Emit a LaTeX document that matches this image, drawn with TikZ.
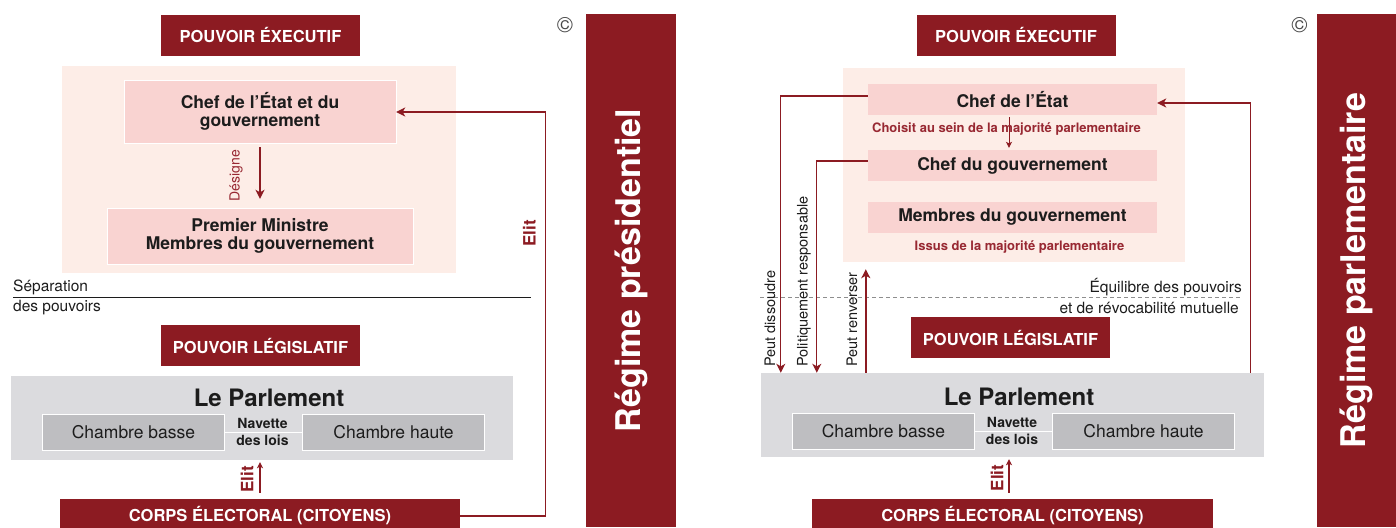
\documentclass[tikz,border=0pt]{standalone}
\usepackage{fontspec}
\setmainfont{TeX Gyre Heros}
\usepackage{tikz}
\usetikzlibrary{arrows.meta}
\definecolor{regred}{HTML}{8C1B22}
\definecolor{notered}{HTML}{982832}
\definecolor{peach}{HTML}{FDEDE7}
\definecolor{rosebox}{HTML}{F9D3D1}
\definecolor{parlgrey}{HTML}{DBDBDE}
\definecolor{chamgrey}{HTML}{BEBEC1}
\definecolor{txtdark}{HTML}{1C1C1C}
\definecolor{dashgrey}{HTML}{8E8E8E}
\tikzset{head node/.style={fill=regred,text=white,inner sep=0pt,font=\fontsize{16.5}{18}\selectfont\bfseries},
	peach node/.style={fill=peach,inner sep=0pt},
	pink node/.style={fill=rosebox,text=txtdark,inner sep=0pt,align=center,font=\fontsize{17.5}{18}\selectfont\bfseries},
	grey node/.style={fill=parlgrey,inner sep=0pt},
	chamber node/.style={fill=chamgrey,draw=white,line width=0.8pt,text=txtdark,inner sep=0pt,minimum width=182pt,minimum height=36pt,font=\fontsize{17.5}{19}\selectfont},
	parl text/.style={text=txtdark,inner sep=0pt,font=\fontsize{24}{26}\selectfont\bfseries},
	nav text/.style={text=txtdark,inner sep=0pt,align=center,font=\fontsize{14}{16.5}\selectfont\bfseries},
	sep text/.style={text=txtdark,inner sep=2pt,font=\fontsize{15.5}{17}\selectfont},
	side text/.style={text=txtdark,inner sep=0pt,rotate=90,anchor=west,font=\fontsize{14.5}{16}\selectfont},
	note text/.style={text=notered,inner sep=0pt,rotate=90,font=\fontsize{14}{16}\selectfont},
	red note/.style={text=notered,inner sep=0pt,font=\fontsize{13}{15}\selectfont\bfseries},
	elit text/.style={text=regred,inner sep=0pt,rotate=90,font=\fontsize{17}{18}\selectfont\bfseries},
	bar node/.style={fill=regred,text=white,inner sep=0pt,rotate=90,font=\fontsize{34}{36}\selectfont\bfseries},
	copy text/.style={text=txtdark!80,inner sep=0pt,font=\fontsize{22}{24}\selectfont},
	red line/.style={draw=regred,line width=1.2pt},
	small tip/.style={>={Stealth[length=6pt,width=6pt,inset=1.5pt]}},
	dashed line/.style={draw=dashgrey,line width=1pt,dash pattern=on 4pt off 3pt},
}

\begin{document}
\begin{tikzpicture}[x=1pt, y=-1pt, >={Stealth[length=9pt,width=9pt,inset=2.5pt]}, line join=miter]
	\useasboundingbox (0,0) rectangle (1396,527);

	\node[peach node, minimum width=394pt, minimum height=207pt] (xbgL) at (259,169.5) {};
	\node[head node, minimum width=199pt, minimum height=41pt] (exL) at (260.5,35.5) {POUVOIR ÉXECUTIF};
	\node[pink node, draw=white, minimum width=272pt, minimum height=63pt] (chefL) at (260,111.5) {Chef de l’État et du\\gouvernement};
	\node[pink node, draw=white, minimum width=306pt, minimum height=56pt] (pmL) at (260,236) {Premier Ministre\\Membres du gouvernement};
	\draw[->, red line, line width=1.8pt, shorten <=4pt, shorten >=9pt] (chefL) -- node[midway, xshift=-24pt, note text] {Désigne} (pmL);

	\node[sep text, anchor=west] (sepA) at (11,287) {Séparation};
	\node[sep text, anchor=west] (sepB) at (11,308) {des pouvoirs};
	\coordinate (sepW) at (13,297);
	\coordinate (sepE) at (531,297);
	\draw[txtdark, line width=1pt] (sepW) -- (sepE);

	\node[head node, minimum width=199pt, minimum height=41pt] (lgL) at (260.5,345.5) {POUVOIR LÉGISLATIF};
	\node[grey node, minimum width=502pt, minimum height=84pt] (parlL) at (262,418) {};
	\node[parl text] (parlLt) at (269,398) {Le Parlement};
	\node[chamber node] (cbL) at (133.5,432) {Chambre basse};
	\node[chamber node] (chL) at (393.5,432) {Chambre haute};
	\draw[white, line width=1pt] (cbL) -- (chL);
	\node[nav text] (navL) at (262.5,432) {Navette\\des lois};

	\node[head node, minimum width=400pt, minimum height=34pt] (ceL) at (260,516) {CORPS ÉLECTORAL (CITOYENS)};
	\draw[->, red line, small tip, shorten <=6pt, shorten >=2pt] (ceL.north) -- node[midway, xshift=-13pt, elit text] {Elit} (ceL.north |- parlL.south);
	\draw[->, red line] (ceL.east) -- ++(85,0) |- node[pos=0.35, xshift=-16pt, elit text] {Elit} ([yshift=-0.5pt]chefL.east);

	\node[bar node, minimum width=513pt, minimum height=90pt] (barL) at (631,270.5) {Régime présidentiel};
	\node[copy text] (copyL) at (565,25) {\textcopyright};

	\node[peach node, minimum width=342pt, minimum height=194pt] (xbgR) at (1014,165) {};
	\node[head node, minimum width=199pt, minimum height=41pt] (exR) at (1016,35.5) {POUVOIR ÉXECUTIF};
	\node[pink node, minimum width=289pt, minimum height=31pt] (chefR) at (1012.5,99.5) {Chef de l’État};
	\node[pink node, minimum width=289pt, minimum height=31pt] (cgR) at (1012.5,165.5) {Chef du gouvernement};
	\node[pink node, minimum width=289pt, minimum height=31pt] (mgR) at (1012.5,217.5) {Membres du gouvernement};
	\draw[->, red line, line width=0.9pt, small tip, shorten <=2pt, shorten >=2pt] ([xshift=-3.5pt]chefR.south) -- ([xshift=-3.5pt]cgR.north);
	\node[red note] (choixR) at (1006.5,129) {Choisit au sein de la majorité parlementaire};
	\node[red note] (issR) at (1019.5,247) {Issus de la majorité parlementaire};

	\coordinate (eqW) at (760,297);
	\coordinate (eqE) at (1242,297);
	\draw[dashed line] (eqW) -- (eqE);
	\node[sep text, anchor=east] (eqA) at (1244,287) {Équilibre des pouvoirs};
	\node[sep text, anchor=east] (eqB) at (1241,308) {et de révocabilité mutuelle};

	\node[head node, minimum width=199pt, minimum height=41pt] (lgR) at (1010.5,337.5) {POUVOIR LÉGISLATIF};
	\node[grey node, minimum width=503pt, minimum height=84pt] (parlR) at (1012.5,415) {};
	\node[parl text] (parlRt) at (1019,397) {Le Parlement};
	\node[chamber node] (cbR) at (883.5,431) {Chambre basse};
	\node[chamber node] (chR) at (1143.5,431) {Chambre haute};
	\draw[white, line width=1pt] (cbR) -- (chR);
	\node[nav text] (navR) at (1012,431) {Navette\\des lois};

	\node[head node, minimum width=401pt, minimum height=34pt] (ceR) at (1012.5,516) {CORPS ÉLECTORAL (CITOYENS)};
	\draw[->, red line, small tip, shorten <=6pt, shorten >=2pt] ([xshift=-3.5pt]ceR.north) -- node[midway, xshift=-12pt, elit text] {Elit} ([xshift=-3.5pt]ceR.north |- parlR.south);

	\draw[->, red line] ([yshift=3.5pt]chefR.west) -| ([xshift=20pt]parlR.north west);
	\draw[->, red line] ([yshift=4.5pt]cgR.west) -| ([xshift=56pt]parlR.north west);
	\draw[->, red line, line width=2pt, shorten >=7pt] ([xshift=105pt]parlR.north west) -- ([xshift=105pt]parlR.north west |- xbgR.south);
	\draw[->, red line] ([xshift=-14pt]parlR.north east) |- ([yshift=-3.5pt]chefR.east);
	\node[side text] (dissT) at (770,367) {Peut dissoudre};
	\node[side text] (polT) at (804,367) {Politiquement responsable};
	\node[side text] (renT) at (852,367) {Peut renverser};

	\node[bar node, minimum width=513pt, minimum height=79pt] (barR) at (1356.5,270.5) {Régime parlementaire};
	\node[copy text] (copyR) at (1299.5,25) {\textcopyright};
\end{tikzpicture}
\end{document}
